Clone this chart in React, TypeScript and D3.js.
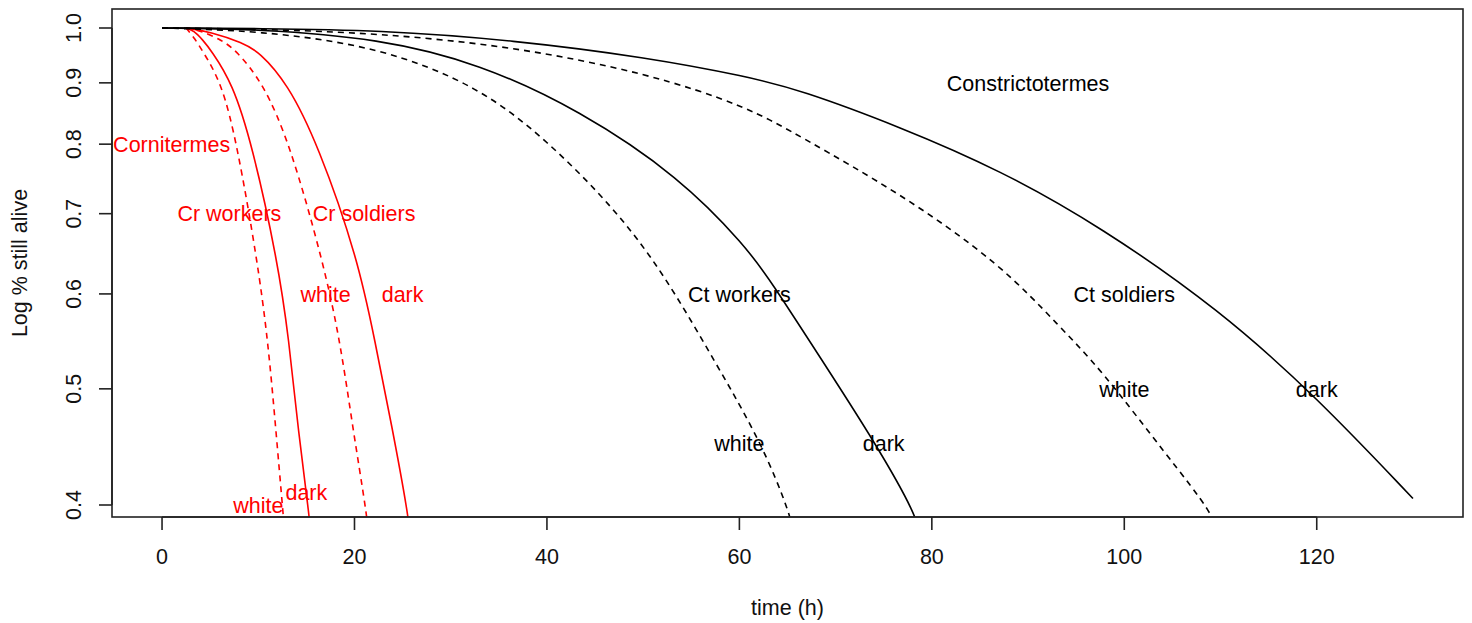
import React from "react";
import * as d3 from "d3";

// ---- data (time in h, proportion still alive) ----
const crWorkersWhite: [number, number][] = [
  [2.5, 1.0], [3.4, 0.98], [4.2, 0.957], [6.2, 0.9], [7.8, 0.8],
  [9.9, 0.64], [11.0, 0.549], [11.8, 0.465], [12.6, 0.392], [12.8, 0.375],
];
const crWorkersDark: [number, number][] = [
  [2.5, 1.0], [3.3, 0.995], [4.2, 0.978], [5.1, 0.958], [7.3, 0.9], [9.35, 0.8],
  [12.0, 0.64], [13.2, 0.549], [14.1, 0.465], [15.3, 0.392], [15.5, 0.375],
];
const crSoldiersWhite: [number, number][] = [
  [2.5, 1.0], [4.0, 0.995], [6.2, 0.977], [7.7, 0.958], [10.5, 0.9], [13.3, 0.8],
  [16.7, 0.64], [18.5, 0.549], [19.8, 0.465], [21.3, 0.392], [21.5, 0.375],
];
const crSoldiersDark: [number, number][] = [
  [2.5, 1.0], [5.0, 0.993], [8.4, 0.972], [10.1, 0.955], [13.0, 0.9], [16.2, 0.8],
  [20.4, 0.64], [22.1, 0.549], [23.9, 0.465], [25.6, 0.392], [25.8, 0.375],
];
const ctWorkersWhite: [number, number][] = [
  [0, 1.0], [10, 0.995], [22.6, 0.965], [33, 0.893], [40, 0.806], [46.9, 0.709],
  [52.1, 0.625], [57.5, 0.526], [62.3, 0.451], [65.4, 0.391], [65.7, 0.375],
];
const ctWorkersDark: [number, number][] = [
  [0, 1.0], [10, 0.998], [22.6, 0.98], [33, 0.934], [43.4, 0.854], [53.8, 0.751],
  [60.7, 0.657], [63.2, 0.616], [68.6, 0.528], [74.1, 0.451], [78.5, 0.391], [78.8, 0.375],
];
const ctSoldiersWhite: [number, number][] = [
  [0, 1.0], [10, 0.998], [22.6, 0.99], [36.5, 0.965], [50.4, 0.917], [60.8, 0.86],
  [66.3, 0.812], [76.7, 0.728], [87.1, 0.636], [93.3, 0.563], [97.5, 0.52],
  [104.4, 0.44], [109.4, 0.392], [109.8, 0.375],
];
const ctSoldiersDark: [number, number][] = [
  [0, 1.0], [10, 0.999], [22.6, 0.996], [36.5, 0.977], [50.4, 0.945], [60.8, 0.911],
  [66.3, 0.888], [76.7, 0.827], [87.1, 0.761], [97.5, 0.683], [109.9, 0.582],
  [120, 0.492], [130, 0.405],
];

const xTicks = [0, 20, 40, 60, 80, 100, 120];
const yTicks = [0.4, 0.5, 0.6, 0.7, 0.8, 0.9, 1.0];

type Label = { text: string; t: number; s: number; color: string };
const labels: Label[] = [
  { text: "Cornitermes", t: 1, s: 0.8, color: "red" },
  { text: "Cr workers", t: 7, s: 0.7, color: "red" },
  { text: "Cr soldiers", t: 21, s: 0.7, color: "red" },
  { text: "white", t: 17, s: 0.6, color: "red" },
  { text: "dark", t: 25, s: 0.6, color: "red" },
  { text: "white", t: 10, s: 0.4, color: "red" },
  { text: "dark", t: 15, s: 0.41, color: "red" },
  { text: "Constrictotermes", t: 90, s: 0.9, color: "black" },
  { text: "Ct workers", t: 60, s: 0.6, color: "black" },
  { text: "Ct soldiers", t: 100, s: 0.6, color: "black" },
  { text: "white", t: 60, s: 0.45, color: "black" },
  { text: "dark", t: 75, s: 0.45, color: "black" },
  { text: "white", t: 100, s: 0.5, color: "black" },
  { text: "dark", t: 120, s: 0.5, color: "black" },
];

const series = [
  { data: crWorkersWhite, color: "red", dashed: true },
  { data: crWorkersDark, color: "red", dashed: false },
  { data: crSoldiersWhite, color: "red", dashed: true },
  { data: crSoldiersDark, color: "red", dashed: false },
  { data: ctWorkersWhite, color: "black", dashed: true },
  { data: ctWorkersDark, color: "black", dashed: false },
  { data: ctSoldiersWhite, color: "black", dashed: true },
  { data: ctSoldiersDark, color: "black", dashed: false },
];

const W = 1472;
const H = 623;
const left = 112, right = 1463, top = 9, bottom = 517;
const FONT = "'Liberation Sans', Arial, Helvetica, sans-serif";
const FS = 21.5;

export default function App() {
  const x = d3.scaleLinear().domain([-5.2, 135.2]).range([left, right]);
  const y = d3.scaleLog().domain([1.0, 0.4]).range([28, 505]);
  const line = d3
    .line<[number, number]>()
    .x((d) => x(d[0]))
    .y((d) => y(d[1]))
    .curve(d3.curveBasis);

  return (
    <svg
      width={W}
      height={H}
      style={{ position: "absolute", left: 0, top: 0, background: "#fff" }}
      fontFamily={FONT}
    >
      <defs>
        <clipPath id="plotclip">
          <rect x={left} y={top} width={right - left} height={bottom - top} />
        </clipPath>
      </defs>
      <rect x={0} y={0} width={W} height={H} fill="#fff" />

      <g clipPath="url(#plotclip)">
        {series.map((s, i) => (
          <path
            key={i}
            d={line(s.data) || ""}
            fill="none"
            stroke={s.color}
            strokeWidth={1.6}
            strokeDasharray={s.dashed ? "6,5" : undefined}
          />
        ))}
      </g>

      {labels.map((l, i) => (
        <text
          key={i}
          x={x(l.t)}
          y={y(l.s) + 7.7}
          textAnchor="middle"
          fontSize={FS}
          fill={l.color}
        >
          {l.text}
        </text>
      ))}

      <rect
        x={left}
        y={top}
        width={right - left}
        height={bottom - top}
        fill="none"
        stroke="#222"
        strokeWidth={1.6}
      />

      {/* x axis */}
      <line x1={x(0)} x2={x(120)} y1={bottom} y2={bottom} stroke="#222" strokeWidth={1.6} />
      {xTicks.map((t) => (
        <g key={t}>
          <line x1={x(t)} x2={x(t)} y1={bottom} y2={bottom + 13} stroke="#222" strokeWidth={1.6} />
          <text x={x(t)} y={564} textAnchor="middle" fontSize={FS} fill="#111">
            {t}
          </text>
        </g>
      ))}
      <text x={(left + right) / 2} y={615} textAnchor="middle" fontSize={FS} fill="#111">
        time (h)
      </text>

      {/* y axis */}
      <line x1={left} x2={left} y1={y(0.4)} y2={y(1.0)} stroke="#222" strokeWidth={1.6} />
      {yTicks.map((t) => (
        <g key={t}>
          <line x1={left - 13} x2={left} y1={y(t)} y2={y(t)} stroke="#222" strokeWidth={1.6} />
          <text
            transform={`translate(81,${y(t)}) rotate(-90)`}
            textAnchor="middle"
            fontSize={FS}
            fill="#111"
          >
            {t.toFixed(1)}
          </text>
        </g>
      ))}
      <text
        transform={`translate(27,${(top + bottom) / 2}) rotate(-90)`}
        textAnchor="middle"
        fontSize={FS}
        fill="#111"
      >
        Log % still alive
      </text>
    </svg>
  );
}
